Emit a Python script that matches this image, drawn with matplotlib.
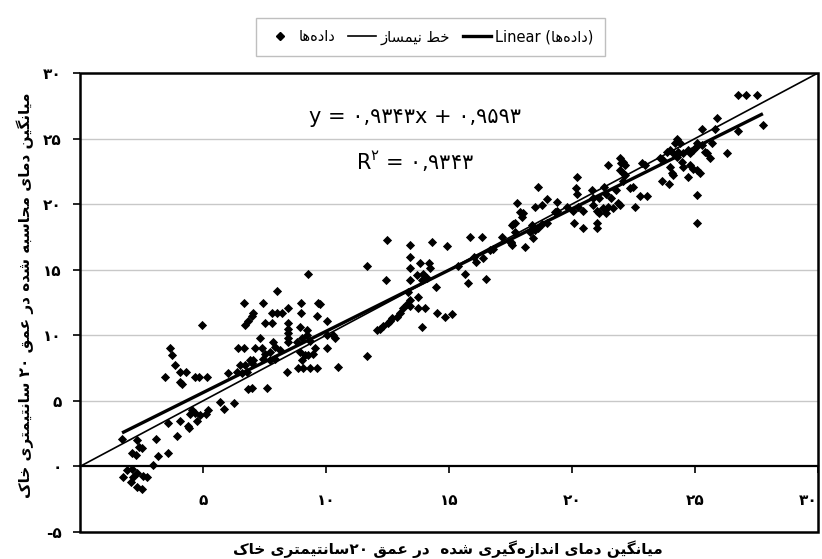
import matplotlib
matplotlib.use('Agg')
import matplotlib.pyplot as plt
from matplotlib.lines import Line2D
from matplotlib.patches import Rectangle

plt.rcParams['font.family'] = ['DejaVu Sans']

# ---------------- data ----------------
measured = [
    3.66, 3.74, 3.86, 4.07, 4.31, 3.46, 4.07, 4.15, 4.67, 4.84, 5.16, 6.42, 6.67, 6.38, 6.59, 6.79, 6.83,
    5.69, 5.85, 6.26, 5.2, 5.12, 4.88, 4.55, 4.47, 4.67, 4.76, 4.39, 4.43, 4.07, 3.94, 3.58, 3.09, 3.58,
    3.17, 2.97, 2.32, 2.4, 2.52, 2.11, 2.28, 1.71, 1.91, 2.11, 2.32, 1.75, 2.15, 2.72, 2.07, 2.56, 2.32,
    2.52, 4.96,
    8.0, 6.67, 7.44, 8.46, 8.98, 9.67, 9.76, 7.04, 6.99, 7.8, 8.0, 8.2, 8.98, 9.63, 6.83, 6.71, 7.52, 7.8,
    8.46, 10.04, 8.46, 8.46, 8.46, 8.46, 8.94, 9.23, 9.23, 9.02, 9.35, 7.32, 10.37, 10.04, 7.11, 7.4, 7.85,
    7.93, 8.13, 7.72, 8.82, 8.94, 9.55, 9.47, 10.04, 9.15, 9.27, 9.02, 7.03, 6.99, 7.44, 6.71, 7.93, 7.72,
    8.86, 9.07, 9.35, 9.63, 8.41, 10.49, 11.67, 6.99, 7.6, 9.27, 6.0, 6.5, 6.9, 7.5,
    12.48, 13.41, 14.31, 14.92, 15.85, 16.34, 11.67, 13.41, 13.41, 13.82, 14.19, 14.23, 13.94, 13.7, 14.11,
    13.9, 13.41, 12.44, 14.47, 15.65, 15.77, 15.37, 13.33, 13.74, 13.41, 13.29, 13.41, 13.74, 14.02, 13.13,
    13.0, 12.9, 12.7, 12.6, 12.5, 12.3, 12.2, 12.07, 14.51, 14.84, 15.12, 13.9, 10.28, 16.5, 16.0, 16.1,
    16.4, 16.67, 16.8,
    17.15, 17.76, 17.9, 18.0, 17.96, 18.5, 18.6, 17.6, 17.56, 18.4, 18.6, 17.7, 18.1, 18.4, 17.5, 21.46,
    22.0, 20.2, 20.16, 20.2, 20.8, 21.3, 18.98, 19.4, 19.8, 18.8, 19.3, 19.4, 20.04, 20.24, 20.45, 20.85,
    21.0, 21.26, 21.46, 21.67, 21.87, 20.85, 21.1, 21.4, 21.6, 21.8, 22.07, 22.15, 21.1, 21.4, 17.7, 18.37,
    18.5, 18.3, 18.8, 19.0, 20.1, 20.45, 21.0, 21.0, 17.5, 17.56,
    26.75, 27.07, 27.5, 25.9, 25.3, 25.8, 26.75, 27.76, 24.27, 24.4, 24.2, 25.1, 25.08, 25.3, 25.7, 23.86,
    24.0, 24.1, 24.3, 24.5, 24.27, 24.7, 24.8, 24.9, 25.4, 25.5, 25.6, 26.3, 23.58, 23.7, 22.85, 22.97,
    21.95, 22.07, 22.15, 24.47, 24.5, 24.0, 24.07, 24.1, 24.8, 24.9, 25.08, 25.2, 23.66, 23.94, 24.7, 22.48,
    22.36, 22.07, 21.95, 22.76, 23.05, 25.1, 22.56, 25.08, 21.95,
]
calculated = [
    9.0, 8.5, 7.7, 7.2, 7.2, 6.8, 6.4, 6.3, 6.8, 6.8, 6.8, 9.0, 9.0, 7.2, 7.1, 7.2, 5.9,
    4.9, 4.4, 4.8, 4.3, 4.0, 3.9, 4.3, 4.0, 4.1, 3.5, 3.1, 2.9, 3.5, 2.3, 3.3, 2.1, 1.0,
    0.8, 0.1, 2.0, 1.5, 1.4, 1.0, 0.9, 2.1, -0.3, -0.2, -0.5, -0.8, -0.8, -0.8, -1.2, -0.7, -1.6,
    -1.7, 10.8,
    13.4, 12.5, 12.5, 12.1, 12.5, 12.5, 12.4, 11.7, 11.5, 11.7, 11.7, 11.7, 11.7, 11.5, 11.1, 10.8, 10.9, 10.9,
    10.9, 11.1, 10.5, 10.2, 9.8, 9.5, 10.6, 10.4, 10.0, 9.8, 9.6, 9.8, 9.8, 10.0, 9.0, 9.0, 9.5,
    9.1, 8.9, 8.7, 9.5, 8.7, 9.0, 8.6, 9.0, 8.5, 8.5, 8.1, 8.1, 7.9, 8.2, 7.7, 8.2, 8.1,
    7.5, 7.5, 7.5, 7.5, 7.2, 7.6, 8.4, 6.0, 6.0, 14.7, 7.1, 7.7, 8.1, 8.6,
    17.3, 16.9, 17.1, 16.8, 17.5, 17.5, 15.3, 16.0, 15.1, 15.5, 15.5, 15.1, 14.7, 14.6, 14.4,
    14.2, 14.2, 14.2, 13.7, 14.7, 14.0, 15.3, 13.3, 12.9, 12.7, 12.4, 12.2, 12.1, 12.1, 12.1,
    11.7, 11.4, 11.3, 11.1, 10.9, 10.7, 10.5, 10.4, 11.7, 11.4, 11.6, 10.6, 10.0, 14.3, 16.0, 15.6,
    15.9, 16.5, 16.6,
    17.5, 20.1, 19.4, 19.3, 19.0, 19.8, 21.3, 18.5, 18.4, 18.2, 18.2, 17.9, 16.7, 17.4, 17.0, 23.0,
    23.1, 22.1, 21.2, 20.8, 21.1, 21.3, 20.4, 20.2, 19.8, 19.9, 19.4, 19.5, 19.5, 19.8, 19.5, 19.9,
    19.5, 19.7, 19.8, 19.7, 20.1, 20.5, 20.5, 20.8, 20.5, 21.1, 21.8, 22.2, 19.3, 19.3, 18.6, 18.4,
    18.0, 17.9, 18.5, 18.6, 18.6, 18.2, 18.6, 18.2, 17.1, 16.9,
    28.3, 28.3, 28.3, 26.6, 25.7, 25.7, 25.6, 26.0, 25.0, 24.7, 24.7, 24.7, 24.4, 24.5, 24.7, 24.0,
    24.1, 23.9, 24.0, 23.9, 23.6, 24.1, 23.9, 24.1, 24.0, 23.9, 23.5, 23.9, 23.5, 23.4, 23.1, 23.0,
    23.5, 23.2, 23.0, 23.2, 22.8, 22.8, 22.4, 22.2, 23.0, 22.7, 22.6, 22.4, 21.8, 21.5, 22.1, 21.3,
    21.2, 22.4, 22.6, 20.6, 20.6, 20.7, 19.8, 18.6, 19.9,
]
slope = 0.9343
intercept = 0.9593

x_ticks = [5, 10, 15, 20, 25, 30]
x_tick_labels = ['۵', '۱۰', '۱۵', '۲۰', '۲۵', '۳۰']
y_ticks = [-5, 0, 5, 10, 15, 20, 25, 30]
y_tick_labels = ['-۵', '۰', '۵', '۱۰', '۱۵', '۲۰', '۲۵', '۳۰']
grid_levels = [5, 10, 15, 20, 25]

eq_text = 'y = ۰,۹۳۴۳x + ۰,۹۵۹۳'
r2_text = '$\\mathregular{R^{۲}}$ = ۰,۹۳۴۳'
xlabel_fa = 'میانگین دمای اندازه\u200cگیری شده  در عمق ۲۰سانتیمتری خاک'
ylabel_fa = 'میانگین دمای محاسبه شده در عمق ۲۰ سانتیمتری خاک'
legend_data = 'داده\u200cها'
legend_line = 'خط نیمساز'

# ---------------- minimal Persian shaping (presentation forms + visual order) ----------------
FORMS = {  # isolated, final, initial, medial
    'ا': ('\uFE8D', '\uFE8E', None, None),
    'ب': ('\uFE8F', '\uFE90', '\uFE91', '\uFE92'),
    'ت': ('\uFE95', '\uFE96', '\uFE97', '\uFE98'),
    'ح': ('\uFEA1', '\uFEA2', '\uFEA3', '\uFEA4'),
    'خ': ('\uFEA5', '\uFEA6', '\uFEA7', '\uFEA8'),
    'د': ('\uFEA9', '\uFEAA', None, None),
    'ر': ('\uFEAD', '\uFEAE', None, None),
    'ز': ('\uFEAF', '\uFEB0', None, None),
    'س': ('\uFEB1', '\uFEB2', '\uFEB3', '\uFEB4'),
    'ش': ('\uFEB5', '\uFEB6', '\uFEB7', '\uFEB8'),
    'ط': ('\uFEC1', '\uFEC2', '\uFEC3', '\uFEC4'),
    'ع': ('\uFEC9', '\uFECA', '\uFECB', '\uFECC'),
    'ق': ('\uFED5', '\uFED6', '\uFED7', '\uFED8'),
    'ل': ('\uFEDD', '\uFEDE', '\uFEDF', '\uFEE0'),
    'م': ('\uFEE1', '\uFEE2', '\uFEE3', '\uFEE4'),
    'ن': ('\uFEE5', '\uFEE6', '\uFEE7', '\uFEE8'),
    'ه': ('\uFEE9', '\uFEEA', '\uFEEB', '\uFEEC'),
    'ک': ('\uFB8E', '\uFB8F', '\uFB90', '\uFB91'),
    'گ': ('\uFB92', '\uFB93', '\uFB94', '\uFB95'),
    'ی': ('\uFBFC', '\uFBFD', '\uFBFE', '\uFBFF'),
}
DIGITS = set('0123456789۰۱۲۳۴۵۶۷۸۹')


def fa(text):
    chars = list(text)
    shaped = []
    for i, c in enumerate(chars):
        if c not in FORMS:
            if c != '\u200c':
                shaped.append(c)
            continue
        prev = chars[i - 1] if i > 0 else None
        nxt = chars[i + 1] if i + 1 < len(chars) else None
        jp = prev in FORMS and FORMS[prev][2] is not None
        jn = nxt in FORMS and FORMS[c][2] is not None
        iso, fin, ini, med = FORMS[c]
        shaped.append(med if (jp and jn) else fin if jp else ini if jn else iso)
    runs = []
    for c in shaped:
        isd = c in DIGITS
        if runs and runs[-1][0] == isd:
            runs[-1][1].append(c)
        else:
            runs.append([isd, [c]])
    out = ''
    for isd, cs in reversed(runs):
        out += ''.join(cs) if isd else ''.join(reversed(cs))
    return out


# ---------------- figure ----------------
fig = plt.figure(figsize=(8.22, 5.59), dpi=100)
ax = fig.add_axes([80 / 822, 1 - 532 / 559, 738 / 822, 459 / 559])
ax.set_xlim(0, 30)
ax.set_ylim(-5, 30)

for g in grid_levels:
    ax.axhline(g, color='#c8c8c8', lw=1.0, zorder=0)

ax.scatter(measured, calculated, marker='D', s=22, color='black', zorder=3, linewidths=0)

lims = [0, 30]
ax.plot(lims, lims, color='black', lw=1.2, zorder=4)
xmin, xmax = min(measured), max(measured)
ax.plot([xmin, xmax], [slope * xmin + intercept, slope * xmax + intercept],
        color='black', lw=2.4, zorder=4, solid_capstyle='butt')

# axes: x axis crosses at y=0, full black frame
for s in ['top', 'right', 'left']:
    ax.spines[s].set_visible(False)
ax.spines['bottom'].set_position(('data', 0))
ax.spines['bottom'].set_linewidth(1.6)
ax.add_patch(Rectangle((0, 0), 1, 1, transform=ax.transAxes, fill=False,
                       edgecolor='black', lw=1.8, zorder=5, clip_on=False))

ax.set_xticks(x_ticks)
ax.set_xticklabels(x_tick_labels, fontsize=11, fontweight='bold')
ax.set_yticks(y_ticks)
ax.set_yticklabels(y_tick_labels, fontsize=11, fontweight='bold')
ax.tick_params(axis='x', direction='out', length=5, width=1.2, pad=14)
ax.tick_params(axis='y', direction='out', length=5, width=1.2, pad=8)
# the last x label sits at the very edge of the figure: keep it inside
ax.get_xticklabels()[-1].set_horizontalalignment('right')

ax.text(0.454, 0.904, eq_text, transform=ax.transAxes, ha='center', va='center', fontsize=15)
ax.text(0.454, 0.806, r2_text, transform=ax.transAxes, ha='center', va='center', fontsize=15)

fig.text(448 / 822, 1 - 549 / 559, fa(xlabel_fa), ha='center', va='center',
         fontsize=11, fontweight='bold')
fig.text(25 / 822, 1 - 295 / 559, fa(ylabel_fa), ha='center', va='center',
         fontsize=11, fontweight='bold', rotation=90)

handles = [
    Line2D([], [], marker='D', linestyle='none', color='black', markersize=4.5),
    Line2D([], [], color='black', lw=1.2),
    Line2D([], [], color='black', lw=2.4),
]
labels = [fa(legend_data), fa(legend_line), 'Linear (' + fa(legend_data) + ')']
fig.legend(handles, labels, loc='center', bbox_to_anchor=(430 / 822, 1 - 37 / 559), ncol=3,
           frameon=True, fancybox=False, edgecolor='#b0b0b0', fontsize=10.5,
           handlelength=1.9, handletextpad=0.3, columnspacing=0.9, borderpad=0.75)

fig.savefig('out.png', dpi=100)
